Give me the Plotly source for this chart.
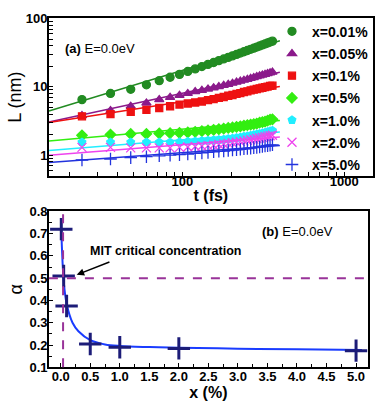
import plotly.graph_objects as go

# ---- panel (a): L(t) for several concentrations ----
t_fs = [24, 36, 48, 60, 72, 84, 96, 108, 120, 132, 144, 156, 168, 180, 192,
        204, 216, 228, 240, 252, 264, 276, 288, 300, 312, 324, 336, 348, 360]

labels = ['x=0.01%', 'x=0.05%', 'x=0.1%', 'x=0.5%', 'x=1.0%', 'x=2.0%', 'x=5.0%']

L_001 = [6.5, 8.0, 9.2, 10.7, 12.3, 13.8, 15.2, 16.8, 18.3, 19.8, 21.3, 22.7, 24.2, 25.6, 27.0,
         28.4, 29.8, 31.2, 32.6, 34.0, 35.4, 36.8, 38.2, 39.6, 41.0, 42.4, 43.8, 45.2, 46.6]
L_005 = [3.8, 4.5, 5.2, 5.8, 6.5, 7.0, 7.5, 8.0, 8.5, 8.9, 9.3, 9.7, 10.1, 10.5, 10.9,
         11.3, 11.7, 12.1, 12.5, 12.9, 13.3, 13.7, 14.1, 14.5, 14.9, 15.2, 15.6, 16.0, 16.4]
L_01 = [3.7, 4.0, 4.3, 4.6, 4.9, 5.2, 5.5, 5.7, 5.9, 6.1, 6.4, 6.6, 6.9, 7.1, 7.4,
        7.6, 7.9, 8.1, 8.4, 8.6, 8.9, 9.1, 9.3, 9.5, 9.7, 9.9, 10.1, 10.3, 10.4]
L_05 = [1.95, 2.0, 2.05, 2.05, 2.08, 2.1, 2.12, 2.15, 2.2, 2.25, 2.3, 2.35, 2.4, 2.45, 2.5,
        2.55, 2.6, 2.65, 2.7, 2.75, 2.8, 2.85, 2.9, 3.0, 3.05, 3.1, 3.2, 3.3, 3.35]
L_10 = [1.55, 1.55, 1.55, 1.55, 1.55, 1.55, 1.56, 1.58, 1.6, 1.62, 1.64, 1.66, 1.68, 1.7, 1.73,
        1.76, 1.8, 1.83, 1.87, 1.9, 1.94, 1.98, 2.02, 2.06, 2.1, 2.15, 2.2, 2.25, 2.3]
L_20 = [1.3, 1.3, 1.28, 1.28, 1.28, 1.28, 1.3, 1.32, 1.34, 1.36, 1.38, 1.4, 1.43, 1.46, 1.49,
        1.52, 1.55, 1.58, 1.62, 1.65, 1.68, 1.72, 1.75, 1.78, 1.82, 1.86, 1.9, 1.93, 1.96]
L_50 = [0.85, 0.88, 0.92, 0.95, 0.98, 1.0, 1.02, 1.04, 1.06, 1.08, 1.1, 1.12, 1.14, 1.15, 1.17,
        1.19, 1.2, 1.22, 1.24, 1.25, 1.27, 1.29, 1.3, 1.32, 1.34, 1.36, 1.38, 1.4, 1.42]

# power-law fit lines (straight on log-log): end points
fit_t = [15, 400]
fit_001 = [4.44, 47.2]
fit_005 = [3.07, 16.4]
fit_01 = [3.0, 10.1]
fit_05 = [1.61, 3.21]
fit_10 = [1.175, 2.19]
fit_20 = [1.0, 1.84]
fit_50 = [0.78, 1.39]

# ---- panel (b): exponent alpha vs concentration ----
x_pct = [0.01, 0.05, 0.1, 0.5, 1.0, 2.0, 5.0]
alpha = [0.72, 0.51, 0.375, 0.205, 0.19, 0.185, 0.175]

curve_x = [0.01, 0.02, 0.05, 0.1, 0.2, 0.3, 0.5, 0.75, 1.0, 1.5, 2.0, 3.0, 4.0, 5.1]
curve_a = [0.72, 0.64, 0.49, 0.385, 0.30, 0.262, 0.222, 0.203, 0.196, 0.191, 0.188, 0.184, 0.181, 0.178]

mit_x = 0.04
alpha_half = 0.5

series = [L_001, L_005, L_01, L_05, L_10, L_20, L_50]
fits = [fit_001, fit_005, fit_01, fit_05, fit_10, fit_20, fit_50]
colors = ['#228b22', '#8b1a8b', '#ee1111', '#33ee11', '#22eeff', '#ee44ee', '#2233dd']
symbols = ['circle', 'triangle-up', 'square', 'diamond', 'pentagon', 'x-thin-open', 'cross-thin-open']
sizes = [8, 8, 7, 8, 8, 9, 9]

FONT = 'Liberation Sans'
fig = go.Figure()

for vals, fv, c, s, sz, lab in zip(series, fits, colors, symbols, sizes, labels):
    fig.add_trace(go.Scatter(x=fit_t, y=fv, mode='lines', line=dict(color=c, width=1.5),
                             showlegend=False, xaxis='x', yaxis='y'))
    fig.add_trace(go.Scatter(x=t_fs, y=vals, mode='markers', name=lab, legendgroup=lab,
                             marker=dict(color=c, symbol=s, size=sz, line=dict(color=c, width=1.3)),
                             xaxis='x', yaxis='y'))

fig.add_trace(go.Scatter(x=curve_x, y=curve_a, mode='lines', line=dict(color='#1a3cff', width=2, shape='spline'),
                         showlegend=False, xaxis='x2', yaxis='y2'))
fig.add_trace(go.Scatter(x=x_pct, y=alpha, mode='markers', showlegend=False,
                         marker=dict(symbol='cross-thin-open', size=16, color='#1c1c78',
                                     line=dict(color='#1c1c78', width=3)),
                         xaxis='x2', yaxis='y2'))

minor_t = [20, 30, 40, 50, 60, 70, 80, 90, 100, 200, 300, 400, 500, 600, 700, 800, 900, 1000]
minor_L = [0.6, 0.7, 0.8, 0.9, 1, 2, 3, 4, 5, 6, 7, 8, 9, 10, 20, 30, 40, 50, 60, 70, 80, 90, 100]

tickfont = dict(family=FONT, size=13, color='black', weight='bold')
axis_common = dict(showline=True, linecolor='black', linewidth=1.5, mirror=True, ticks='inside',
                   ticklen=4, tickcolor='black', showgrid=False, zeroline=False, tickfont=tickfont)

fig.update_layout(
    width=382, height=411, margin=dict(l=0, r=0, t=0, b=0),
    paper_bgcolor='white', plot_bgcolor='white',
    xaxis=dict(axis_common, type='log', domain=[0.128, 0.976], anchor='y',
               range=[1.176, 3.176], tickvals=minor_t,
               ticktext=['' if v not in (100, 1000) else str(v) for v in minor_t],
               linewidth=2, ticklabelstandoff=-7,
               title=dict(text='<b>t (fs)</b>', font=dict(family=FONT, size=16, color='black'), standoff=2)),
    yaxis=dict(axis_common, type='log', domain=[0.574, 0.971], anchor='x',
               range=[-0.3, 2.0], tickvals=minor_L, ticklabelstandoff=-3,
               ticktext=['' if v not in (1, 10, 100) else str(v) for v in minor_L],
               title=dict(text='L (nm)', font=dict(family=FONT, size=18, color='black'), standoff=0)),
    xaxis2=dict(axis_common, domain=[0.128, 0.963], anchor='y2', range=[-0.2, 5.2],
                tickvals=[0, 0.5, 1, 1.5, 2, 2.5, 3, 3.5, 4, 4.5, 5], tickformat='.1f', linewidth=2,
                ticklabelstandoff=-4,
                minor=dict(ticks='inside', ticklen=3, dtick=0.25, tickcolor='black'),
                title=dict(text='<b>x (%)</b>', font=dict(family=FONT, size=16, color='black'), standoff=2)),
    yaxis2=dict(axis_common, domain=[0.090, 0.484], anchor='x2', range=[0.1, 0.8], dtick=0.1,
                tickformat='.1f', ticklabelstandoff=-3,
                minor=dict(ticks='inside', ticklen=3, dtick=0.05, tickcolor='black'),
                title=dict(text='α', font=dict(family=FONT, size=18, color='black'), standoff=2)),
    legend=dict(x=0.712, y=0.978, xanchor='left', yanchor='top', bgcolor='rgba(0,0,0,0)',
                font=dict(family=FONT, size=14, color='black', weight='bold'),
                tracegroupgap=1, itemwidth=30),
    shapes=[
        dict(type='line', xref='x2', yref='y2 domain', x0=mit_x, x1=mit_x, y0=0, y1=1,
             line=dict(color='#993399', width=2, dash='dash')),
        dict(type='line', xref='x2 domain', yref='y2', x0=0, x1=1, y0=alpha_half, y1=alpha_half,
             line=dict(color='#993399', width=2, dash='dash')),
    ],
    annotations=[
        dict(xref='paper', yref='paper', x=63 / 382, y=1 - 43 / 411, xanchor='left', yanchor='middle',
             text='<b>(a)</b> E=0.0eV', showarrow=False, font=dict(family=FONT, size=13, color='black')),
        dict(xref='paper', yref='paper', x=260 / 382, y=1 - 233 / 411, xanchor='left', yanchor='middle',
             text='<b>(b)</b> E=0.0eV', showarrow=False, font=dict(family=FONT, size=13, color='black')),
        dict(xref='x2', yref='y2', x=0.27, y=0.515, ax=0.85, ay=0.575, axref='x2', ayref='y2',
             text='', showarrow=True, arrowhead=2, arrowsize=1, arrowwidth=1.5, arrowcolor='black'),
        dict(xref='paper', yref='paper', x=88 / 382, y=1 - 253 / 411, xanchor='left', yanchor='middle',
             text='<b>MIT critical concentration</b>', showarrow=False,
             font=dict(family=FONT, size=12.5, color='black')),
    ],
)

fig.write_html('out.html', config={'displayModeBar': False},
               post_script="document.body.style.margin='0';")
